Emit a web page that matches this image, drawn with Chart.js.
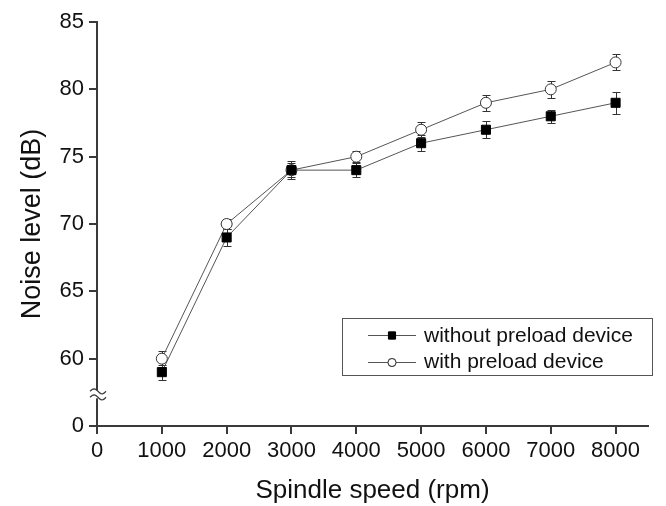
<!DOCTYPE html>
<html>
<head>
<meta charset="utf-8">
<script src="https://cdn.jsdelivr.net/npm/chart.js@4"></script>
<style>
  body { margin: 0; background: #fff; }
  #wrap { width: 666px; height: 506px; }
</style>
</head>
<body>
<div id="wrap"><canvas id="noiseChart"></canvas></div>
<script>
/* global Chart */

let speeds = [1000, 2000, 3000, 4000, 5000, 6000, 7000, 8000];
let withoutPreload = [59, 69, 74, 74, 76, 77, 78, 79];
let withoutErr = [0.55, 0.65, 0.5, 0.5, 0.6, 0.65, 0.5, 0.8];
let withPreload = [60, 70, 74, 75, 77, 79, 80, 82];
let withErr = [0.6, 0.4, 0.65, 0.4, 0.55, 0.6, 0.65, 0.6];
let xTicks = [0, 1000, 2000, 3000, 4000, 5000, 6000, 7000, 8000];
let yTicks = [55, 60, 65, 70, 75, 80, 85];
// 55 sits below the axis break and is shown as 0
let breakValue = 55;

const font = "'Liberation Sans', Arial, sans-serif";
const ink = "#3a3a3a";

// error bars, drawn under the markers
const errorBars = {
  id: "errorBars",
  beforeDatasetsDraw(chart) {
    const ctx = chart.ctx;
    const y = chart.scales.y;
    ctx.save();
    ctx.strokeStyle = "#333";
    ctx.lineWidth = 1;
    chart.data.datasets.forEach((ds, i) => {
      const meta = chart.getDatasetMeta(i);
      meta.data.forEach((pt, j) => {
        const v = ds.data[j].y;
        const e = ds.errors[j];
        const top = Math.round(y.getPixelForValue(v + e)) + 0.5;
        const bot = Math.round(y.getPixelForValue(v - e)) + 0.5;
        const x = Math.round(pt.x) + 0.5;
        ctx.beginPath();
        ctx.moveTo(x, top); ctx.lineTo(x, bot);
        ctx.moveTo(x - 4, top); ctx.lineTo(x + 4, top);
        ctx.moveTo(x - 4, bot); ctx.lineTo(x + 4, bot);
        ctx.stroke();
      });
    });
    ctx.restore();
  },
};

// axis break mark and boxed legend
const extras = {
  id: "extras",
  afterDraw(chart) {
    const ctx = chart.ctx;
    const area = chart.chartArea;
    const y = chart.scales.y;
    const by = (y.getPixelForValue(breakValue) + y.getPixelForValue(60)) / 2 + 2;
    ctx.save();
    ctx.fillStyle = "#fff";
    ctx.fillRect(area.left - 2, by - 4, 4, 8);
    ctx.strokeStyle = ink;
    ctx.lineWidth = 1.3;
    [-3, 3].forEach((dy) => {
      ctx.beginPath();
      for (let k = 0; k <= 16; k++) {
        const px = area.left - 7 + k;
        const py = by + dy - 2.5 * Math.sin((k / 16) * Math.PI * 2);
        if (k === 0) ctx.moveTo(px, py); else ctx.lineTo(px, py);
      }
      ctx.stroke();
    });

    // legend
    const bx = 342, bt = 318, bw = 310, bh = 57;
    ctx.fillStyle = "#fff";
    ctx.fillRect(bx, bt, bw, bh);
    ctx.strokeStyle = "#555";
    ctx.lineWidth = 1;
    ctx.strokeRect(bx + 0.5, bt + 0.5, bw, bh);
    ctx.font = "21px " + font;
    ctx.textBaseline = "middle";
    chart.data.datasets.forEach((ds, i) => {
      const ly = 335 + i * 26.5;
      ctx.strokeStyle = ds.borderColor;
      ctx.lineWidth = 1;
      ctx.beginPath();
      ctx.moveTo(368, Math.round(ly) + 0.5);
      ctx.lineTo(416, Math.round(ly) + 0.5);
      ctx.stroke();
      Chart.helpers.drawPoint(ctx, {
        pointStyle: ds.pointStyle,
        radius: ds.pointStyle === "rect" ? 5 : 4,
        borderWidth: 1,
      }, 392, Math.round(ly) + 0.5);
      ctx.fillStyle = ds.pointBackgroundColor;
      ctx.strokeStyle = ds.pointBorderColor;
      ctx.fill();
      ctx.stroke();
      ctx.fillStyle = "#111";
      ctx.fillText(ds.label, 424, ly + 1);
    });
    ctx.restore();
  },
};

const ctx = document.getElementById("noiseChart").getContext("2d");
const noiseChart = new Chart(ctx, {
  type: "line",
  data: {
    datasets: [
      {
        label: "without preload device",
        data: speeds.map((s, i) => ({ x: s, y: withoutPreload[i] })),
        errors: withoutErr,
        borderColor: "#555",
        borderWidth: 1,
        pointStyle: "rect",
        pointRadius: 6.4,
        pointBackgroundColor: "#000",
        pointBorderColor: "#000",
        pointBorderWidth: 1,
        tension: 0,
      },
      {
        label: "with preload device",
        data: speeds.map((s, i) => ({ x: s, y: withPreload[i] })),
        errors: withErr,
        borderColor: "#555",
        borderWidth: 1,
        pointStyle: "circle",
        pointRadius: 5.5,
        pointBackgroundColor: "#fff",
        pointBorderColor: "#333",
        pointBorderWidth: 1,
        tension: 0,
      },
    ],
  },
  options: {
    responsive: true,
    maintainAspectRatio: false,
    animation: false,
    layout: { padding: { top: 22, right: 18, left: 0, bottom: 0 } },
    plugins: {
      legend: { display: false },
      tooltip: { enabled: false },
    },
    scales: {
      x: {
        type: "linear",
        min: 0,
        max: 8500,
        afterFit(scale) { scale.height = 80; },
        afterBuildTicks(scale) { scale.ticks = xTicks.map((v) => ({ value: v })); },
        border: { display: true, color: ink, width: 2 },
        grid: { drawOnChartArea: false, drawTicks: true, tickLength: 8, color: ink, lineWidth: 2 },
        ticks: {
          font: { family: font, size: 22 },
          color: "#111",
          padding: 4,
          maxRotation: 0,
          autoSkip: false,
          callback: (v) => String(v),
        },
        title: {
          display: true,
          text: "Spindle speed (rpm)",
          font: { family: font, size: 26 },
          color: "#111",
          padding: { top: 0, bottom: 0 },
        },
      },
      y: {
        type: "linear",
        min: 55,
        max: 85,
        afterFit(scale) { scale.width = 97; },
        afterBuildTicks(scale) { scale.ticks = yTicks.map((v) => ({ value: v })); },
        border: { display: true, color: ink, width: 2 },
        grid: { drawOnChartArea: false, drawTicks: true, tickLength: 8, color: ink, lineWidth: 2 },
        ticks: {
          font: { family: font, size: 22 },
          color: "#111",
          padding: 5,
          autoSkip: false,
          callback: (v) => (v === breakValue ? "0" : String(v)),
        },
        title: {
          display: true,
          text: "Noise level (dB)",
          font: { family: font, size: 27 },
          color: "#111",
          padding: { top: 16, bottom: 0 },
        },
      },
    },
  },
  plugins: [errorBars, extras],
});
</script>
</body>
</html>
